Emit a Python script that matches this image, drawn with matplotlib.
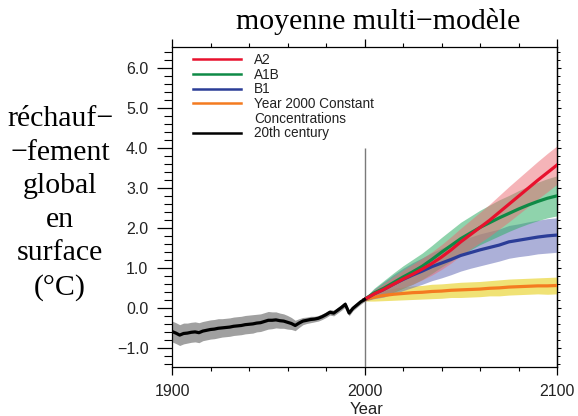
import matplotlib
matplotlib.use("Agg")
import matplotlib.pyplot as plt
from matplotlib.lines import Line2D
import numpy as np

# ---------------- data ----------------
hist_years = list(range(1900, 2001, 2))
hist_mean = [-0.58, -0.62, -0.67, -0.63, -0.62, -0.60, -0.59, -0.61, -0.57, -0.55,
             -0.53, -0.52, -0.50, -0.49, -0.48, -0.47, -0.45, -0.44, -0.43, -0.41,
             -0.40, -0.39, -0.37, -0.36, -0.33, -0.30, -0.30, -0.29, -0.31, -0.32,
             -0.35, -0.38, -0.43, -0.37, -0.32, -0.30, -0.28, -0.27, -0.25, -0.21,
             -0.16, -0.10, -0.12, -0.05, 0.02, 0.10, -0.12, 0.00, 0.08, 0.16, 0.22]
hist_spread = [0.26, 0.26, 0.26, 0.26, 0.25, 0.25, 0.25, 0.25, 0.24, 0.24,
               0.24, 0.24, 0.24, 0.23, 0.23, 0.23, 0.23, 0.23, 0.23, 0.23,
               0.23, 0.23, 0.22, 0.22, 0.22, 0.22, 0.21, 0.20, 0.19, 0.18,
               0.17, 0.15, 0.13, 0.11, 0.09, 0.08, 0.08, 0.07, 0.07, 0.07,
               0.07, 0.07, 0.07, 0.07, 0.07, 0.07, 0.07, 0.06, 0.06, 0.06, 0.05]

proj_years = list(range(2000, 2101, 5))
a2_mean = [0.22, 0.36, 0.47, 0.60, 0.73, 0.85, 0.98, 1.12, 1.28, 1.46, 1.66,
           1.84, 2.02, 2.20, 2.40, 2.60, 2.80, 3.00, 3.20, 3.39, 3.58]
a2_spread = [0.04, 0.10, 0.15, 0.19, 0.22, 0.25, 0.27, 0.29, 0.31, 0.33, 0.34,
             0.36, 0.38, 0.40, 0.42, 0.44, 0.45, 0.46, 0.47, 0.48, 0.48]
a1b_mean = [0.22, 0.38, 0.50, 0.64, 0.78, 0.91, 1.05, 1.22, 1.40, 1.57, 1.74,
            1.88, 2.02, 2.14, 2.26, 2.37, 2.48, 2.58, 2.67, 2.75, 2.81]
a1b_spread = [0.04, 0.12, 0.19, 0.24, 0.28, 0.31, 0.33, 0.35, 0.37, 0.39, 0.41,
              0.42, 0.43, 0.44, 0.45, 0.45, 0.46, 0.47, 0.48, 0.49, 0.50]
b1_mean = [0.22, 0.36, 0.47, 0.60, 0.72, 0.83, 0.93, 1.04, 1.13, 1.22, 1.32,
           1.39, 1.46, 1.52, 1.58, 1.66, 1.70, 1.74, 1.78, 1.81, 1.83]
b1_spread = [0.04, 0.12, 0.19, 0.24, 0.28, 0.31, 0.33, 0.35, 0.37, 0.38, 0.39,
             0.39, 0.40, 0.40, 0.40, 0.41, 0.41, 0.42, 0.42, 0.43, 0.43]
const_mean = [0.22, 0.28, 0.32, 0.35, 0.37, 0.39, 0.40, 0.42, 0.43, 0.45, 0.46,
              0.47, 0.48, 0.50, 0.51, 0.53, 0.54, 0.55, 0.56, 0.56, 0.57]
const_spread = [0.04, 0.10, 0.13, 0.15, 0.16, 0.17, 0.17, 0.18, 0.18, 0.18, 0.19,
                0.19, 0.19, 0.19, 0.20, 0.20, 0.20, 0.20, 0.20, 0.21, 0.21]

legend_labels = ["A2", "A1B", "B1", "Year 2000 Constant", "Concentrations", "20th century"]
x_ticks = [1900, 2000, 2100]
x_tick_labels = ["1900", "2000", "2100"]
y_ticks = [-1, 0, 1, 2, 3, 4, 5, 6]
y_tick_labels = ["\u22121.0", "0.0", "1.0", "2.0", "3.0", "4.0", "5.0", "6.0"]
title = "moyenne multi\u2212modèle"
ylabel = "réchauf\u2212\n\u2212fement\nglobal\nen\nsurface\n(°C)"
xlabel = "Year"

# ---------------- style ----------------
SERIF = ["Liberation Serif", "DejaVu Serif"]
SANS = ["Liberation Sans", "DejaVu Sans"]
plt.rcParams["font.family"] = SANS

c_a2, c_a1b, c_b1, c_const, c_hist = "#e8112d", "#0f8a46", "#2b3d97", "#f47b20", "#000000"
b_a2, b_a1b, b_b1, b_const, b_hist = "#ec6a72", "#33af68", "#6870b8", "#e6cf1a", "#a0a0a0"

fig = plt.figure(figsize=(5.78, 4.16), dpi=100)
ax = fig.add_axes([172 / 578, 1 - 367.3 / 416, (557 - 172) / 578, (367.3 - 47) / 416])

ymin, ymax = -1.475, 6.53
ax.set_xlim(1900, 2100)
ax.set_ylim(ymin, ymax)

def arr(a):
    return np.asarray(a, dtype=float)

# bands
ax.fill_between(hist_years, arr(hist_mean) - arr(hist_spread), arr(hist_mean) + arr(hist_spread),
                color=b_hist, lw=0, zorder=1)
for m, s, c, a in [(const_mean, const_spread, b_const, 0.6),
                   (b1_mean, b1_spread, b_b1, 0.55),
                   (a1b_mean, a1b_spread, b_a1b, 0.55),
                   (a2_mean, a2_spread, b_a2, 0.5)]:
    ax.fill_between(proj_years, arr(m) - arr(s), arr(m) + arr(s), color=c, alpha=a, lw=0, zorder=2)

# vertical reference line at 2000
ax.vlines(2000, ymin, 4.0, color="#7a7a7a", lw=1.0, zorder=3)

# lines
lw = 2.3
ax.plot(proj_years, const_mean, color=c_const, lw=lw, zorder=4)
ax.plot(proj_years, b1_mean, color=c_b1, lw=lw, zorder=5)
ax.plot(proj_years, a1b_mean, color=c_a1b, lw=lw, zorder=6)
ax.plot(proj_years, a2_mean, color=c_a2, lw=lw, zorder=7)
ax.plot(hist_years, hist_mean, color=c_hist, lw=lw, zorder=8)

# legend
hl = 1.8
handles = [Line2D([], [], color=c_a2, lw=hl),
           Line2D([], [], color=c_a1b, lw=hl),
           Line2D([], [], color=c_b1, lw=hl),
           Line2D([], [], color=c_const, lw=hl),
           Line2D([], [], color="none", lw=hl),
           Line2D([], [], color=c_hist, lw=hl)]
leg = ax.legend(handles, legend_labels, loc="upper left",
                bbox_to_anchor=((193 - 172) / 385, (367.3 - 53) / 320.3),
                frameon=False, handlelength=3.5, handletextpad=1.0,
                labelspacing=0.05, borderpad=0, borderaxespad=0,
                prop={"family": SANS, "size": 9.8})
for t in leg.get_texts():
    t.set_color("#222222")

# spines
for sp in ax.spines.values():
    sp.set_linewidth(0.9)

# ticks
ax.set_xticks(x_ticks)
ax.set_xticklabels(x_tick_labels)
ax.set_xticks(list(range(1900, 2101, 20)), minor=True)
ax.set_yticks(y_ticks)
ax.set_yticklabels(y_tick_labels)
ax.set_yticks(list(np.arange(-1.4, 6.5, 0.2)), minor=True)
ax.tick_params(axis="x", which="major", direction="out", length=6, width=0.9,
               pad=6, labelsize=11.5, top=True, labelcolor="#222222")
ax.tick_params(axis="x", which="minor", direction="out", length=3.2, width=0.8, top=True)
ax.tick_params(axis="y", which="major", direction="out", length=11, width=0.9,
               pad=6, labelsize=11.5, labelcolor="#222222")
ax.tick_params(axis="y", which="minor", direction="out", length=5.5, width=0.8)

sec = ax.secondary_yaxis("right")
sec.set_yticks(y_ticks)
sec.set_yticks(list(np.arange(-1.4, 6.5, 0.2)), minor=True)
sec.tick_params(axis="y", which="major", direction="out", length=3, width=0.8, labelright=False)
sec.tick_params(axis="y", which="minor", direction="out", length=2, width=0.7)
sec.spines["right"].set_linewidth(0.9)

# labels
ax.set_xlabel(xlabel, fontsize=12, color="#222222", va="center")
ax.xaxis.set_label_coords((367 - 172) / 385, (367.3 - 409) / 320.3)
ax.set_ylabel(ylabel, rotation=0, fontsize=21.5, family=SERIF, ha="center", va="center",
              multialignment="center", linespacing=1.38)
ax.yaxis.set_label_coords((60 - 172) / 385, (367.3 - 203.5) / 320.3)
ax.text((378.5 - 172) / 385, (367.3 - 21) / 320.3, title, transform=ax.transAxes,
        fontsize=21.5, family=SERIF, ha="center", va="center")

fig.savefig("out.png", dpi=100)
